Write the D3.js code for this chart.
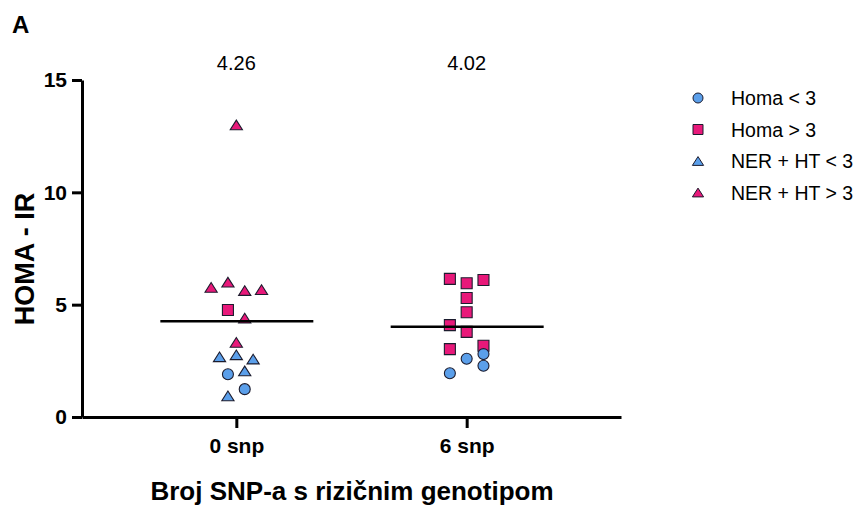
<!DOCTYPE html>
<html>
<head>
<meta charset="utf-8">
<script src="https://cdn.jsdelivr.net/npm/d3@7"></script>
<style>
  body { margin: 0; background: #fff; }
  svg { display: block; font-family: "Liberation Sans", Arial, sans-serif; }
</style>
</head>
<body>
<div id="chart"></div>
<script>
// categories and group means (shown above each column)
var categories = ["0 snp", "6 snp"];
var means = [4.26, 4.02];
var seriesNames = ["Homa < 3", "Homa > 3", "NER + HT < 3", "NER + HT > 3"];
var yTicks = [0, 5, 10, 15];

// one entry per patient: column, series index, HOMA-IR value, jitter slot
var pointCategory = ["0 snp", "0 snp", "0 snp", "0 snp", "0 snp", "0 snp", "0 snp", "0 snp",
                     "0 snp", "0 snp", "0 snp", "0 snp", "0 snp", "0 snp", "0 snp",
                     "6 snp", "6 snp", "6 snp", "6 snp", "6 snp", "6 snp", "6 snp", "6 snp",
                     "6 snp", "6 snp", "6 snp", "6 snp", "6 snp"];
var pointSeries   = [3, 3, 3, 3, 3, 1, 3, 3, 2, 2, 2, 0, 2, 0, 2,
                     1, 1, 1, 1, 1, 1, 1, 1, 1, 0, 0, 0, 0];
var pointValue    = [13.0, 5.77, 6.0, 5.63, 5.67, 4.76, 4.4, 3.32, 2.68, 2.77, 2.58, 1.9, 2.05, 1.24, 0.94,
                     6.15, 5.95, 6.1, 5.3, 4.66, 4.09, 3.79, 3.02, 3.17, 2.59, 2.8, 2.28, 1.95];
var pointSlot     = [0, -3, -1, 1, 3, -1, 1, 0, -2, 0, 2, -1, 1, 1, -1,
                     -2, 0, 2, 0, 0, -2, 0, -2, 2, 0, 2, 2, -2];

var width = 857, height = 506;
var pink = "#e8197a", blue = "#5b9fea", edge = "#1c1c2e";
var seriesShape = ["circle", "square", "triangle", "triangle"];
var seriesFill = [blue, pink, blue, pink];

var svg = d3.select("#chart").append("svg")
    .attr("width", width)
    .attr("height", height);

var x = d3.scalePoint().domain(categories).range([82, 621]).padding(0.67);
var y = d3.scaleLinear().domain([0, 15]).range([417, 80]);
var jitter = d3.scaleLinear().domain([-1, 1]).range([-8.4, 8.4]);

function shapePath(shape, s) {
    // s = full size of the symbol, centred on its bounding box
    var h = s / 2;
    if (shape == "circle")
        return "M" + h + ",0A" + h + "," + h + " 0 1,1 " + (-h) + ",0A" + h + "," + h + " 0 1,1 " + h + ",0Z";
    if (shape == "square")
        return "M" + (-h) + "," + (-h) + "H" + h + "V" + h + "H" + (-h) + "Z";
    var th = s * 0.88 / 2;
    return "M0," + (-th) + "L" + (h + 0.6) + "," + th + "L" + (-h - 0.6) + "," + th + "Z";
}

// panel letter
svg.append("text")
    .attr("x", 12).attr("y", 33)
    .attr("font-size", "24px").attr("font-weight", "bold")
    .text("A");

// y axis
var yAxis = svg.append("g")
    .attr("transform", "translate(82,0)")
    .call(d3.axisLeft(y).tickValues(yTicks).tickSize(10).tickSizeOuter(0).tickPadding(5));
yAxis.select(".domain").attr("stroke", "#000").attr("stroke-width", 3);
yAxis.selectAll(".tick line").attr("stroke", "#000").attr("stroke-width", 3);
yAxis.selectAll(".tick text")
    .attr("font-size", "21px").attr("font-weight", "bold")
    .attr("font-family", "Liberation Sans, Arial, sans-serif").attr("fill", "#000");

// x axis
var xAxis = svg.append("g")
    .attr("transform", "translate(0,417)")
    .call(d3.axisBottom(x).tickSize(11).tickSizeOuter(0).tickPadding(10));
xAxis.select(".domain").attr("stroke", "#000").attr("stroke-width", 3);
xAxis.selectAll(".tick line").attr("stroke", "#000").attr("stroke-width", 3);
xAxis.selectAll(".tick text")
    .attr("font-size", "21px").attr("font-weight", "bold")
    .attr("font-family", "Liberation Sans, Arial, sans-serif").attr("fill", "#000");

// axis titles
svg.append("text")
    .attr("transform", "translate(34,259) rotate(-90)")
    .attr("text-anchor", "middle")
    .attr("font-size", "27px").attr("font-weight", "bold")
    .text("HOMA - IR");

svg.append("text")
    .attr("x", 352).attr("y", 500)
    .attr("text-anchor", "middle")
    .attr("font-size", "26px").attr("font-weight", "bold")
    .text("Broj SNP-a s rizičnim genotipom");

// mean values above the columns
categories.forEach(function(c, i) {
    svg.append("text")
        .attr("x", x(c)).attr("y", 70)
        .attr("text-anchor", "middle")
        .attr("font-size", "20px")
        .text(means[i].toFixed(2));
});

// points
var points = pointValue.map(function(v, i) {
    return { cat: pointCategory[i], series: pointSeries[i], value: v, slot: pointSlot[i] };
});

svg.append("g").selectAll("path")
    .data(points)
    .enter().append("path")
    .attr("d", function(d) { return shapePath(seriesShape[d.series], 11); })
    .attr("transform", function(d) {
        return "translate(" + (x(d.cat) + jitter(d.slot)) + "," + y(d.value) + ")";
    })
    .attr("fill", function(d) { return seriesFill[d.series]; })
    .attr("stroke", edge)
    .attr("stroke-width", 1.1);

// mean lines
categories.forEach(function(c, i) {
    svg.append("line")
        .attr("x1", x(c) - 76).attr("x2", x(c) + 77)
        .attr("y1", y(means[i])).attr("y2", y(means[i]))
        .attr("stroke", "#000")
        .attr("stroke-width", 2.5);
});

// legend
var legend = svg.append("g");
seriesNames.forEach(function(name, i) {
    var ly = 98 + i * 31.5;
    legend.append("path")
        .attr("d", shapePath(seriesShape[i], 10))
        .attr("transform", "translate(698," + ly + ")")
        .attr("fill", seriesFill[i])
        .attr("stroke", edge)
        .attr("stroke-width", 1);
    legend.append("text")
        .attr("x", 731).attr("y", ly + 7)
        .attr("font-size", "19.5px")
        .text(name);
});
</script>
</body>
</html>
